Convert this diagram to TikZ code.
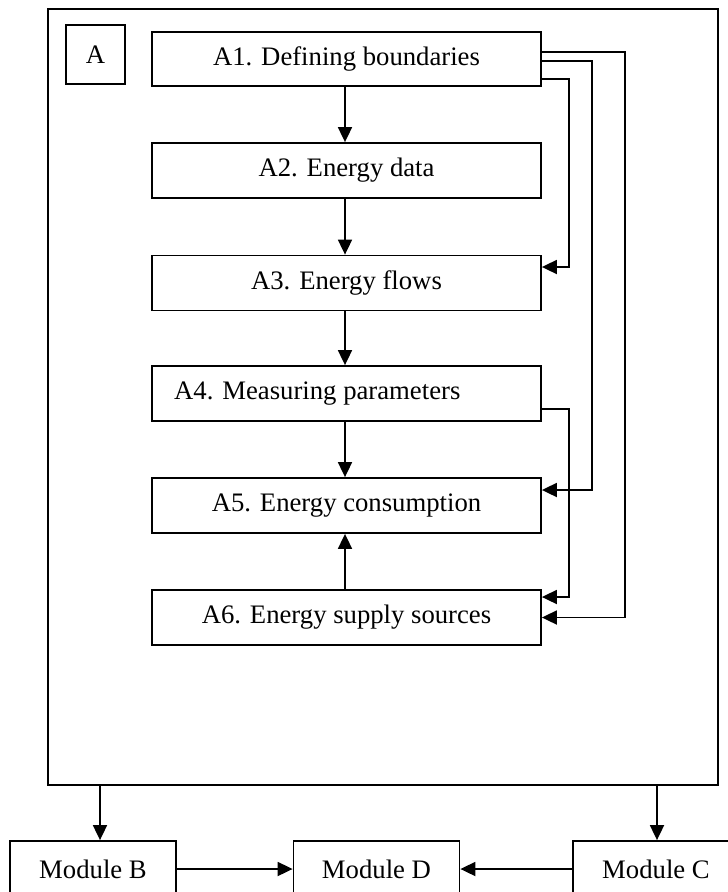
\documentclass[tikz,border=0pt]{standalone}
\usepackage{fontspec}
\setmainfont{Liberation Serif}
\usetikzlibrary{arrows.meta}
\begin{document}
\begin{tikzpicture}[x=1pt,y=-1pt,
  every node/.style={font=\fontsize{26.7}{32}\selectfont},
  box/.style={draw,line width=1.8pt,inner sep=0pt,minimum height=55pt},
  stagebox/.style={box,minimum width=389pt},
  modbox/.style={box,minimum width=166pt,minimum height=56pt},
  arr/.style={line width=1.8pt,-{Triangle[length=15pt,width=14pt]}},
  link/.style={line width=1.8pt}]
\clip (0,0) rectangle (728,892);
\fill[white] (0,0) rectangle (728,892);

% outer frame of block A
\node[box,minimum width=670pt,minimum height=776pt] (frame) at (383,397) {};
\node[box,minimum width=59pt,minimum height=59pt] (a) at (95.5,54.5) {A};

% stages of block A
\node[stagebox,minimum height=54pt] (a1) at (346.5,59) {A1. Defining boundaries};
\node[stagebox] (a2) at (346.5,170.5) {A2. Energy data};
\node[stagebox] (a3) at (346.5,283) {A3. Energy flows};
\node[stagebox] (a4) at (346.5,393.5) {};
\node[anchor=west,inner sep=0pt] (a4t) at (174,393.5) {A4. Measuring parameters};
\node[stagebox] (a5) at (346.5,505.5) {A5. Energy consumption};
\node[stagebox] (a6) at (346.5,617.5) {A6. Energy supply sources};

% main chain
\draw[arr] (a1.south -| 345,0) -- (a2.north -| 345,0);
\draw[arr] (a2.south -| 345,0) -- (a3.north -| 345,0);
\draw[arr] (a3.south -| 345,0) -- (a4.north -| 345,0);
\draw[arr] (a4.south -| 345,0) -- (a5.north -| 345,0);
\draw[arr] (a6.north -| 345,0) -- (a5.south -| 345,0);

% feedback routes on the right
\draw[arr] ([yshift=7pt]a1.east) -- ++(83,0) |- (a6.east);
\draw[arr] ([yshift=-2pt]a1.east) -- ++(50,0) |- ([yshift=15.5pt]a5.east);
\draw[arr] ([yshift=-20pt]a1.east) -- ++(27,0) |- ([yshift=16pt]a3.east);
\draw[arr] ([yshift=-15.5pt]a4.east) -- ++(27,0) |- ([yshift=20.5pt]a6.east);

% modules
\node[modbox] (mb) at (93,869) {Module B};
\node[modbox] (md) at (376.5,869) {Module D};
\node[modbox] (mc) at (656,869) {Module C};

\draw[arr] (frame.south -| 100,0) -- (mb.north -| 100,0);
\draw[arr] (frame.south -| 657,0) -- (mc.north -| 657,0);
\draw[arr] (mb.east) -- (md.west);
\draw[arr] (mc.west) -- (md.east);
\end{tikzpicture}
\end{document}
